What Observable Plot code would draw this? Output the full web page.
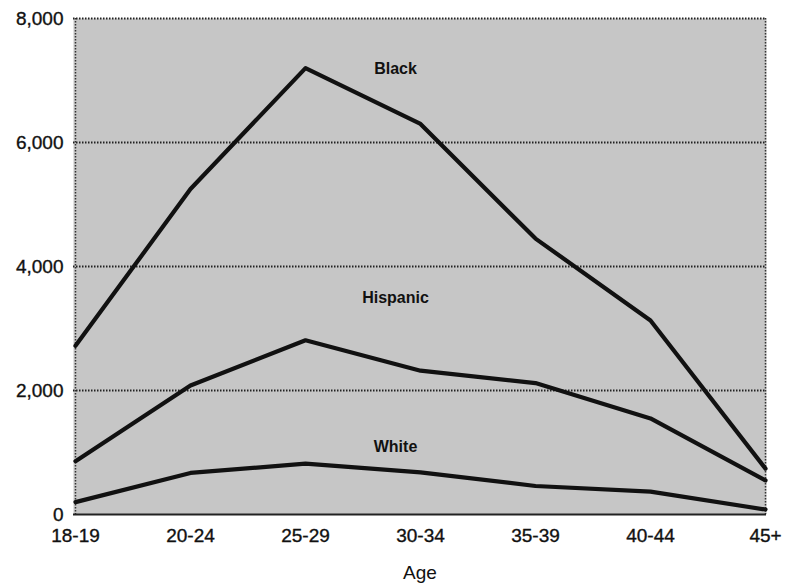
<!DOCTYPE html>
<html>
<head>
<meta charset="utf-8">
<script src="https://cdn.jsdelivr.net/npm/d3@7"></script>
<script src="https://cdn.jsdelivr.net/npm/@observablehq/plot@0.6"></script>
<style>
  html, body { margin: 0; padding: 0; background: #fff; }
  #chart svg { display: block; }
  #chart svg g[aria-label="y-axis tick label"] text,
  #chart svg g[aria-label="x-axis tick label"] text { stroke: #111; stroke-width: 0.35px; }
</style>
</head>
<body>
<div id="chart"></div>
<script>
const ages = ["18-19", "20-24", "25-29", "30-34", "35-39", "40-44", "45+"];
const black = [2720, 5250, 7200, 6300, 4450, 3130, 740];
const hispanic = [860, 2080, 2810, 2320, 2120, 1550, 550];
const white = [200, 670, 820, 680, 460, 370, 80];
const yTicks = [0, 2000, 4000, 6000, 8000];
const gridValues = [2000, 4000, 6000, 8000];
const labelText = ["Black", "Hispanic", "White"];
const labelValue = [7190, 3500, 1090];

const seriesNames = ["Black", "Hispanic", "White"];
const seriesValues = [black, hispanic, white];
const rows = seriesNames.flatMap((s, i) => ages.map((a, j) => ({series: s, age: a, value: seriesValues[i][j]})));
const labels = labelText.map((t, i) => ({text: t, value: labelValue[i]}));

const chart = Plot.plot({
  width: 786,
  height: 586,
  marginLeft: 73,
  marginRight: 20,
  marginTop: 18,
  marginBottom: 72,
  style: {fontFamily: "Liberation Sans, Arial, sans-serif", fontSize: "19px", color: "#111", background: "#fff"},
  x: {type: "point", domain: ages, padding: 0, label: "Age", labelAnchor: "center", labelOffset: 64},
  y: {domain: [0, 8000], label: null},
  marks: [
    Plot.frame({fill: "#c6c6c6", stroke: null}),
    Plot.ruleY(gridValues, {stroke: "#222", strokeWidth: 2, strokeDasharray: "1.5,1.5"}),
    Plot.ruleX([ages[0], ages[ages.length - 1]], {stroke: "#333", strokeWidth: 1.5, strokeDasharray: "1.5,1.5"}),
    Plot.ruleY([0], {stroke: "#222", strokeWidth: 2}),
    Plot.axisY({ticks: yTicks, tickFormat: d3.format(","), tickSize: 0, tickPadding: 10, fontSize: 19}),
    Plot.axisX({tickSize: 0, tickPadding: 14, fontSize: 19, label: "Age", labelAnchor: "center", labelOffset: 64}),
    Plot.lineY(rows, {x: "age", y: "value", z: "series", stroke: "#111", strokeWidth: 4.2}),
    Plot.text(labels, {x: () => "25-29", y: "value", text: "text", dx: 90, fontWeight: "bold", fontSize: 16, fill: "#111"})
  ]
});
document.getElementById("chart").appendChild(chart);
</script>
</body>
</html>
